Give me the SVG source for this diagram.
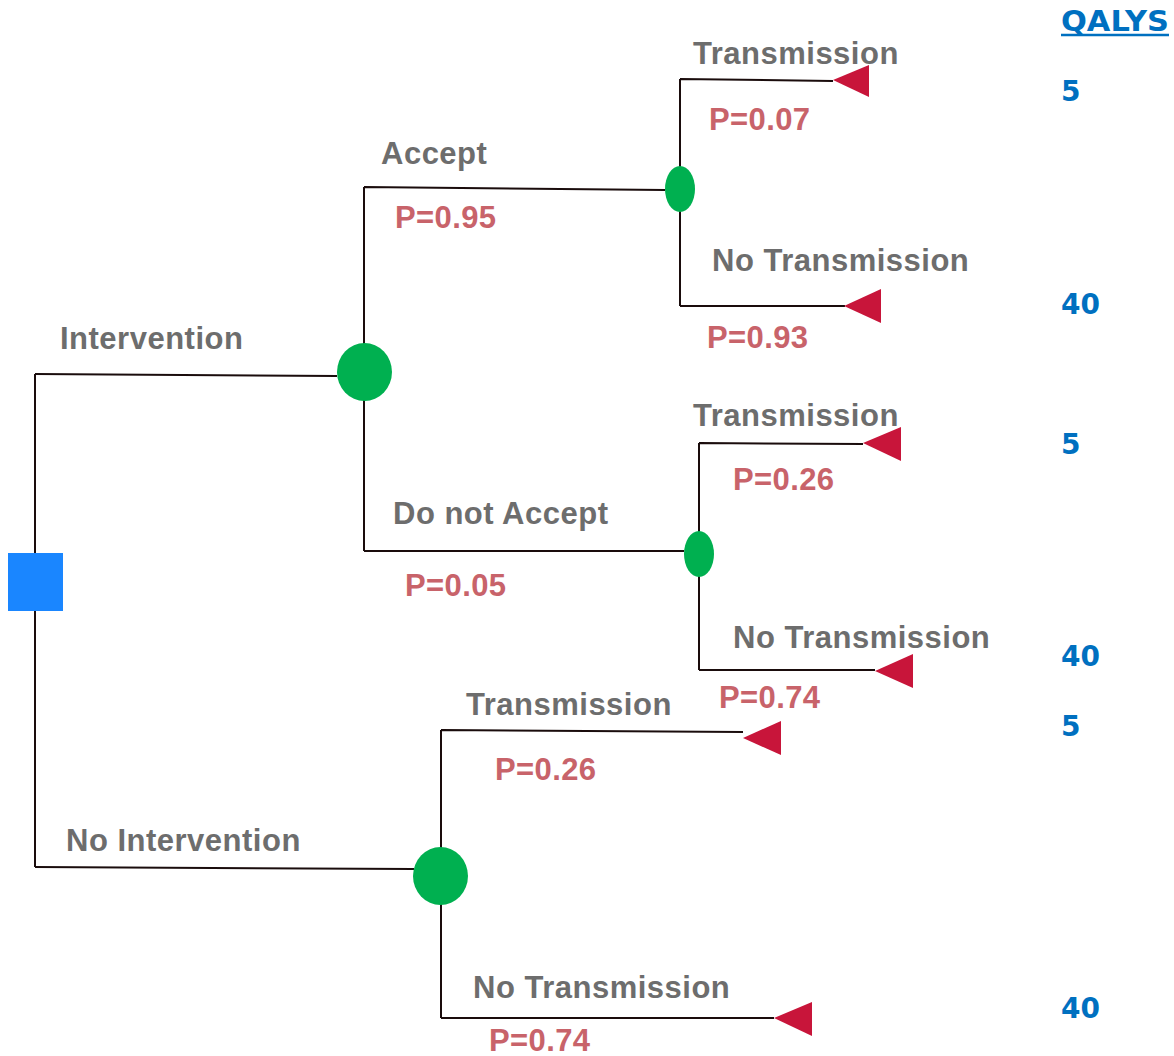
<svg xmlns="http://www.w3.org/2000/svg" width="1174" height="1056" viewBox="0 0 1174 1056">
  <style>
    .edge { fill: none; stroke: #1a0c0c; stroke-width: 2; }
    .chance { fill: #00b050; }
    .decision { fill: #1a86ff; }
    .terminal { fill: #c8153a; }
    .lbl { font-family: "Liberation Sans", Arial, sans-serif; font-weight: bold; font-size: 31px; letter-spacing: 0.5px; fill: #6d6d6d; }
    .prob { font-family: "Liberation Sans", Arial, sans-serif; font-weight: bold; font-size: 31px; letter-spacing: 0.4px; fill: #c8636a; }
    .qaly { font-family: "DejaVu Sans", Verdana, sans-serif; font-weight: bold; font-size: 28px; fill: #0070c0; }
  </style>
  <rect width="1174" height="1056" fill="#ffffff"/>

  <!-- branches -->
  <g id="connectors">
    <path class="edge" d="M35,611 V867 M35,553 V374"/>
    <path class="edge" d="M35,374 L337,376"/>
    <path class="edge" d="M35,867 L414,869"/>
    <path class="edge" d="M364,187 V551 M364,187 L665,190 M364,551 L684,551"/>
    <path class="edge" d="M680,79 V306 M680,79 L833,81 M680,306 L845,306"/>
    <path class="edge" d="M699,443 V670 M699,443 L863,444 M699,670 L875,670"/>
    <path class="edge" d="M441,730 V1018 M441,730 L743,732 M441,1018 L774,1018"/>
  </g>

  <!-- decision node -->
  <g id="decision">
    <rect class="decision" x="8" y="553" width="55" height="58"/>
  </g>

  <!-- chance nodes -->
  <g id="chance-intervention"><ellipse class="chance" cx="364.5" cy="372" rx="27.5" ry="29"/></g>
  <g id="chance-accept"><ellipse class="chance" cx="680" cy="189" rx="15" ry="23"/></g>
  <g id="chance-not-accept"><ellipse class="chance" cx="699" cy="554" rx="15" ry="23"/></g>
  <g id="chance-no-intervention"><ellipse class="chance" cx="440.5" cy="876" rx="27.5" ry="29"/></g>

  <!-- terminal nodes -->
  <g id="term-1"><polygon class="terminal" points="833,80 869,65 869,97"/></g>
  <g id="term-2"><polygon class="terminal" points="844,306 881,289 881,323"/></g>
  <g id="term-3"><polygon class="terminal" points="863,443 901,427 901,461"/></g>
  <g id="term-4"><polygon class="terminal" points="875,671 913,654 913,688"/></g>
  <g id="term-5"><polygon class="terminal" points="743,738 781,721 781,755"/></g>
  <g id="term-6"><polygon class="terminal" points="774,1018 812,1002 812,1036"/></g>

  <!-- branch labels -->
  <g id="labels">
    <text class="lbl" x="60" y="349">Intervention</text>
    <text class="lbl" x="66" y="851">No Intervention</text>
    <text class="lbl" x="381" y="164">Accept</text>
    <text class="lbl" x="393" y="524">Do not Accept</text>
    <text class="lbl" x="693" y="64">Transmission</text>
    <text class="lbl" x="712" y="271">No Transmission</text>
    <text class="lbl" x="693" y="426">Transmission</text>
    <text class="lbl" x="733" y="648">No Transmission</text>
    <text class="lbl" x="466" y="715">Transmission</text>
    <text class="lbl" x="473" y="998">No Transmission</text>

    <text class="prob" x="395" y="228">P=0.95</text>
    <text class="prob" x="405" y="596">P=0.05</text>
    <text class="prob" x="709" y="130">P=0.07</text>
    <text class="prob" x="707" y="348">P=0.93</text>
    <text class="prob" x="733" y="490">P=0.26</text>
    <text class="prob" x="719" y="708">P=0.74</text>
    <text class="prob" x="495" y="780">P=0.26</text>
    <text class="prob" x="489" y="1051">P=0.74</text>
  </g>

  <!-- outcome values -->
  <g id="qalys">
    <text class="qaly" x="1061" y="31" font-size="30" textLength="108" lengthAdjust="spacingAndGlyphs">QALYS</text>
    <line x1="1061" y1="35" x2="1169" y2="35" stroke="#0070c0" stroke-width="2.5"/>
    <text class="qaly" x="1061" y="101">5</text>
    <text class="qaly" x="1061" y="314">40</text>
    <text class="qaly" x="1061" y="454">5</text>
    <text class="qaly" x="1061" y="666">40</text>
    <text class="qaly" x="1061" y="736">5</text>
    <text class="qaly" x="1061" y="1018">40</text>
  </g>
</svg>
